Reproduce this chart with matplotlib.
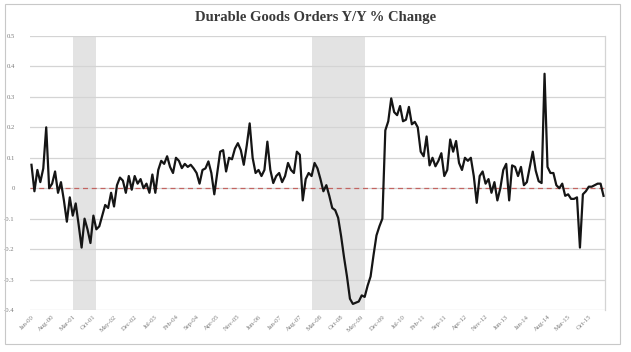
import matplotlib
matplotlib.use("Agg")
import matplotlib.pyplot as plt
from matplotlib.patches import Rectangle
import numpy as np

# Monthly Y/Y change, Jan-2000 onward
values = [
    0.077, -0.01, 0.06, 0.02, 0.065, 0.20, 0.00, 0.015, 0.055, -0.015,
    0.02, -0.04, -0.11, -0.03, -0.09, -0.05, -0.12, -0.195, -0.10, -0.135,
    -0.18, -0.09, -0.135, -0.125, -0.09, -0.055, -0.065, -0.015, -0.06, 0.01,
    0.035, 0.025, -0.015, 0.04, -0.005, 0.04, 0.015, 0.03, 0.0, 0.015,
    -0.015, 0.045, -0.015, 0.06, 0.09, 0.08, 0.105, 0.07, 0.05,
    0.10, 0.09, 0.066, 0.08, 0.07, 0.077, 0.065, 0.05, 0.015, 0.06,
    0.065, 0.088, 0.05, -0.02, 0.05, 0.12, 0.125, 0.055, 0.10, 0.095,
    0.13, 0.148, 0.125, 0.077, 0.14, 0.213, 0.10, 0.05, 0.06, 0.04,
    0.06, 0.153, 0.06, 0.017, 0.04, 0.05, 0.02, 0.04, 0.083, 0.06,
    0.05, 0.12, 0.11, -0.04, 0.03, 0.05, 0.04, 0.083, 0.065, 0.03,
    -0.01,
    0.01, -0.025, -0.065, -0.072, -0.097, -0.157, -0.227, -0.29, -0.363, -0.38,
    -0.376, -0.372, -0.352, -0.357, -0.32, -0.29, -0.22, -0.155, -0.125, -0.10,
    0.19, 0.22, 0.295, 0.25, 0.24, 0.27, 0.22, 0.225, 0.267, 0.21,
    0.218, 0.20, 0.12, 0.105, 0.17, 0.075, 0.10, 0.072, 0.09, 0.115,
    0.04, 0.06, 0.16, 0.12, 0.155, 0.083, 0.06, 0.10, 0.09,
    0.10, 0.04, -0.048, 0.04, 0.055, 0.015, 0.03, -0.015, 0.02, -0.04,
    0.0, 0.06, 0.08, -0.04, 0.075, 0.07, 0.04, 0.07, 0.01, 0.02,
    0.07, 0.12, 0.058, 0.023, 0.017, 0.376, 0.07, 0.05, 0.05, 0.01,
    0.0, 0.015, -0.025, -0.02, -0.035, -0.035, -0.03, -0.195, -0.02, -0.01,
    0.005, 0.005, 0.01, 0.015, 0.015, -0.025,
]

tick_labels = [
    "Jan-00", "Aug-00", "Mar-01", "Oct-01", "May-02", "Dec-02", "Jul-03",
    "Feb-04", "Sep-04", "Apr-05", "Nov-05", "Jun-06", "Jan-07", "Aug-07",
    "Mar-08", "Oct-08", "May-09", "Dec-09", "Jul-10", "Feb-11", "Sep-11",
    "Apr-12", "Nov-12", "Jun-13", "Jan-14", "Aug-14", "Mar-15", "Oct-15",
]
tick_step = 7  # months between labels

# Recessions as month indexes (Mar-01..Nov-01, Dec-07..Jun-09)
recessions = [(14, 22), (95, 113)]

y_ticks = [-0.4, -0.3, -0.2, -0.1, 0.0, 0.1, 0.2, 0.3, 0.4, 0.5]
y_tick_labels = ["-0.4", "-0.3", "-0.2", "-0.1", "0", "0.1", "0.2", "0.3", "0.4", "0.5"]

title = "Durable Goods Orders Y/Y % Change"

serif = ["Liberation Serif", "DejaVu Serif"]
W, H = 631, 352
fig = plt.figure(figsize=(W / 100, H / 100), dpi=100)
fig.patch.set_facecolor("white")

ax = fig.add_axes([30 / W, 1 - 310 / H, (605 - 30) / W, (310 - 36) / H])

x = np.arange(len(values))
for a, b in recessions:
    ax.axvspan(a, b, color="#e3e3e3", lw=0, zorder=0)

for yt in y_ticks:
    ax.axhline(yt, color="#d4d4d4", lw=0.9, zorder=1)

ax.axhline(0, color="#c0504d", lw=0.9, ls=(0, (4, 3)), zorder=2, alpha=0.85)
ax.plot(x, values, color="#151515", lw=1.6, zorder=3, solid_joinstyle="round")

ax.set_xlim(-0.5, len(values) - 0.5)
ax.set_ylim(-0.4, 0.5)

ax.set_yticks(y_ticks)
ax.set_yticklabels(y_tick_labels, fontsize=4.8, color="#7a7a7a", family=serif)
ax.set_xticks(np.arange(0, len(tick_labels) * tick_step, tick_step))
ax.set_xticklabels(tick_labels, fontsize=4.8, color="#7a7a7a", family=serif,
                   rotation=45, ha="right", rotation_mode="anchor")
ax.tick_params(axis="y", length=0, pad=11)
ax.tick_params(axis="x", length=0, pad=3)

for s in ["top", "left", "bottom"]:
    ax.spines[s].set_visible(False)
ax.spines["right"].set_color("#d4d4d4")
ax.spines["right"].set_linewidth(0.9)

fig.text(0.5, 1 - 17 / H, title, ha="center", va="center",
         family=serif, fontweight="bold", fontsize=10.5, color="#3a3a3a")

fig.patches.append(Rectangle((5 / W, 1 - 344 / H), (620 - 5) / W, (344 - 4) / H,
                             transform=fig.transFigure, fill=False,
                             ec="#c8c8c8", lw=0.8))

fig.savefig("out.png", dpi=100, facecolor="white")
